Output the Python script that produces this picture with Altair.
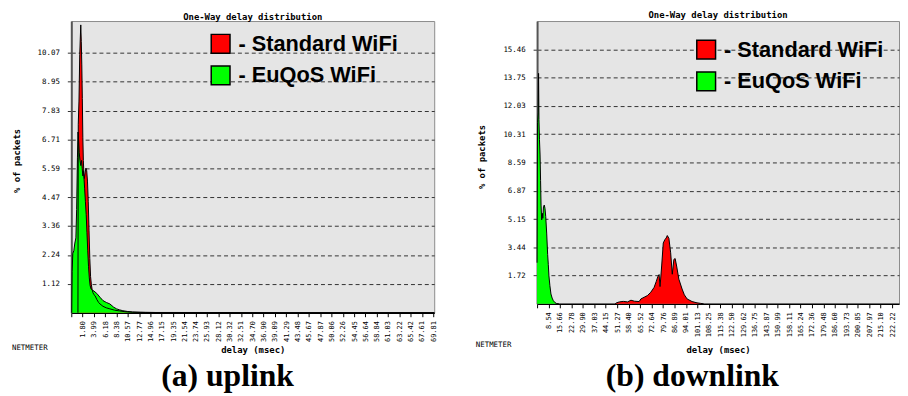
import altair as alt
import pandas as pd

TITLE = "One-Way delay distribution"
SERIES = ["Standard WiFi", "EuQoS WiFi"]
COLORS = ["#ff0000", "#00ff00"]
MONO = "DejaVu Sans Mono"

# ---- uplink (a) ----
up_std_ms = [0.90, 0.96, 1.10, 1.25, 1.35, 1.45, 1.55, 1.65, 1.75, 1.85, 1.95, 2.05, 2.15, 2.30,
             2.45, 2.60, 2.75, 2.90, 3.05, 3.20, 3.35, 3.50, 3.65, 3.80, 4.00, 4.22, 4.55, 4.90,
             5.18, 5.76, 6.40, 7.10, 8.00, 9.00, 10.0, 11.5, 14.0, 20.0, 30.0, 40.0, 70.0]
up_std_pct = [0.0, 7.3, 8.2, 10.0, 10.6, 11.15, 10.5, 9.6, 8.3, 6.8, 5.9, 5.4, 5.2, 5.45,
              5.6, 5.5, 5.1, 4.3, 3.2, 2.1, 1.4, 1.1, 0.9, 0.78, 0.7, 0.66, 0.52, 0.40,
              0.34, 0.25, 0.19, 0.15, 0.10, 0.07, 0.04, 0.02, 0.01, 0.01, 0.005, 0.0, 0.0]
up_eu_ms = [-0.30, -0.22, -0.10, 0.10, 0.30, 0.50, 0.65, 0.80, 0.92, 1.02, 1.15, 1.30, 1.45,
            1.60, 1.72, 1.85, 1.95, 2.05, 2.20, 2.35, 2.50, 2.65, 2.80, 2.95, 3.10, 3.26, 3.45,
            3.70, 4.00, 4.55, 5.18, 5.76, 6.40, 7.10, 7.80, 8.40, 9.00, 9.60, 10.5, 11.5, 13.0,
            16.0, 25.0, 35.0, 70.0]
up_eu_pct = [0.0, 1.6, 2.3, 2.4, 2.7, 2.9, 4.0, 6.0, 7.0, 6.7, 6.2, 5.9, 5.7,
             5.9, 5.6, 5.3, 5.5, 5.3, 4.8, 4.3, 3.8, 3.1, 2.4, 1.8, 1.35, 1.05, 0.92,
             0.88, 0.84, 0.75, 0.60, 0.47, 0.40, 0.34, 0.22, 0.15, 0.11, 0.08, 0.05, 0.03, 0.02,
             0.01, 0.01, 0.0, 0.0]
up_xticks = [-0.39, 1.80, 3.99, 6.18, 8.38, 10.57, 12.77, 14.96, 17.15, 19.35, 21.54, 23.74,
             25.93, 28.12, 30.32, 32.51, 34.70, 36.90, 39.09, 41.29, 43.48, 45.67, 47.87, 50.06,
             52.26, 54.45, 56.64, 58.84, 61.03, 63.22, 65.42, 67.61, 69.81]
up_yticks = [1.12, 2.24, 3.36, 4.47, 5.59, 6.71, 7.83, 8.95, 10.07]

# ---- downlink (b) ----
dn_std_ms = [50.0, 50.6, 52.6, 55.0, 57.7, 59.8, 62.0, 64.9, 66.0, 68.0, 70.0, 72.1, 74.2, 75.5,
             76.5, 77.3, 77.9, 78.9, 79.9, 80.9, 81.7, 82.4, 83.4, 84.5, 85.5, 86.5, 87.3, 88.2,
             89.6, 91.6, 93.0, 94.7, 97.8, 100.9, 103.0, 105.0]
dn_std_pct = [0.0, 0.05, 0.12, 0.15, 0.12, 0.22, 0.16, 0.14, 0.30, 0.40, 0.50, 0.70, 1.00, 1.35,
              1.65, 1.78, 1.05, 2.3, 3.7, 3.9, 4.0, 4.15, 3.98, 3.1, 1.8, 2.7, 2.75, 2.3,
              1.5, 0.9, 0.55, 0.30, 0.14, 0.06, 0.03, 0.0]
dn_eu_ms = [1.42, 1.70, 2.10, 2.35, 2.60, 2.90, 3.27, 3.60, 3.90, 4.30, 4.70, 5.00, 5.40, 5.90,
            6.35, 6.80, 7.40, 8.00, 8.40, 8.80, 9.40, 10.05, 10.8, 11.5, 12.5, 13.6, 15.0]
dn_eu_pct = [2.5, 11.0, 11.6, 14.0, 11.2, 10.0, 9.1, 7.5, 6.0, 5.1, 5.5, 5.2, 5.9, 6.0,
             5.8, 5.3, 4.3, 3.0, 2.4, 1.7, 1.1, 0.6, 0.35, 0.2, 0.08, 0.02, 0.0]
dn_xticks = [1.42, 8.54, 15.66, 22.78, 29.90, 37.03, 44.15, 51.27, 58.40, 65.52, 72.64, 79.76,
             86.89, 94.01, 101.13, 108.25, 115.38, 122.50, 129.62, 136.75, 143.87, 150.99,
             158.11, 165.24, 172.36, 179.48, 186.60, 193.73, 200.85, 207.97, 215.10, 222.22]
dn_yticks = [1.72, 3.44, 5.15, 6.87, 8.59, 10.31, 12.03, 13.75, 15.46]


def panel(std_ms, std_pct, eu_ms, eu_pct, xdom, xticks, hide_below, ydom, yticks,
          w, h, leg_x, leg_y, title_y, yt_x, yt_y, xt_y, net_x, net_y, caption, cap_x, cap_y):
    std = pd.DataFrame({"delay": std_ms, "pct": std_pct, "series": SERIES[0]})
    eu = pd.DataFrame({"delay": eu_ms, "pct": eu_pct, "series": SERIES[1]})
    both = pd.concat([std, eu], ignore_index=True)

    x = alt.X("delay:Q",
              scale=alt.Scale(domain=xdom, nice=False, zero=False),
              axis=alt.Axis(values=xticks, format=".2f",
                            labelExpr=f"datum.value < {hide_below} ? '' : datum.label",
                            labelAngle=270, labelFont=MONO, labelFontSize=7,
                            labelColor="#000", labelPadding=4, labelOverlap=False,
                            labelFlush=False, labelBound=False,
                            tickColor="#000", tickSize=4, tickWidth=1,
                            domainColor="#000", domainWidth=1.5, grid=False,
                            title="delay (msec)", titleFont=MONO, titleFontSize=9,
                            titleFontWeight="bold", titleColor="#000",
                            titleY=xt_y, titleBaseline="middle"))
    y = alt.Y("pct:Q", stack=None,
              scale=alt.Scale(domain=ydom, nice=False, zero=True),
              axis=alt.Axis(values=yticks, format=".2f", labelFont=MONO, labelFontSize=7.5,
                            labelColor="#000", labelPadding=8, labelFlush=False,
                            tickSize=4, tickColor="#333",
                            domainColor="#555", domainWidth=2,
                            grid=True, gridColor="#333", gridDash=[4, 3], gridWidth=1,
                            title="% of packets", titleFont=MONO, titleFontSize=9,
                            titleFontWeight="bold", titleColor="#000",
                            titleX=yt_x, titleY=yt_y, titleAngle=270,
                            titleAlign="center", titleBaseline="middle"))
    color = alt.Color("series:N",
                      scale=alt.Scale(domain=SERIES, range=COLORS),
                      legend=alt.Legend(orient="none", legendX=leg_x, legendY=leg_y,
                                        title=None, symbolType="square", symbolSize=361,
                                        symbolStrokeColor="#000", symbolStrokeWidth=1.5,
                                        symbolOpacity=1, labelFont="Liberation Sans",
                                        labelFontSize=22, labelFontWeight="bold",
                                        labelColor="#000", labelLimit=400,
                                        labelExpr="'- ' + datum.label",
                                        labelOffset=7, rowPadding=6, padding=0))

    a_std = alt.Chart(std).mark_area(opacity=1, interpolate="linear").encode(x=x, y=y, color=color)
    a_eu = alt.Chart(eu).mark_area(opacity=1, interpolate="linear").encode(x=x, y=y, color=color)
    lines = alt.Chart(both).mark_line(color="#000", strokeWidth=1, interpolate="linear").encode(
        x=x, y=y, detail="series:N")

    t_title = alt.Chart(pd.DataFrame({"t": [TITLE]})).mark_text(
        font=MONO, fontSize=9, fontWeight="bold", align="center", baseline="middle",
        color="#000").encode(text="t:N", x=alt.value(w / 2), y=alt.value(title_y))
    t_net = alt.Chart(pd.DataFrame({"t": ["NETMETER"]})).mark_text(
        font=MONO, fontSize=7.5, align="left", baseline="middle",
        color="#000").encode(text="t:N", x=alt.value(net_x), y=alt.value(net_y))
    t_cap = alt.Chart(pd.DataFrame({"t": [caption]})).mark_text(
        font="Liberation Serif", fontSize=32, fontWeight="bold", align="center",
        baseline="alphabetic", color="#000").encode(
        text="t:N", x=alt.value(cap_x), y=alt.value(cap_y))

    return alt.layer(a_std, a_eu, lines, t_title, t_net, t_cap).properties(width=w, height=h)


left = panel(up_std_ms, up_std_pct, up_eu_ms, up_eu_pct, [-0.39, 70.0], up_xticks, 0,
             [0, 11.30], up_yticks, 367, 295, 140, 12, -4, -55, 141, 37, -60, 331,
             "(a) uplink", 158, 369)
right = panel(dn_std_ms, dn_std_pct, dn_eu_ms, dn_eu_pct, [1.42, 226.5], dn_xticks, 2,
              [0, 17.18], dn_yticks, 366, 286, 160, 18, -6, -56.5, 137, 46, -62, 328,
              "(b) downlink", 157, 369)

chart = alt.hconcat(left, right, spacing=104, bounds="flush").resolve_scale(
    color="independent").configure_view(fill="#e5e5e5", stroke="#8c8c8c", strokeWidth=1
).properties(padding={"left": 3, "top": 0, "right": 0, "bottom": 0})

chart.save("out.html", embed_options={"renderer": "svg", "actions": False})
